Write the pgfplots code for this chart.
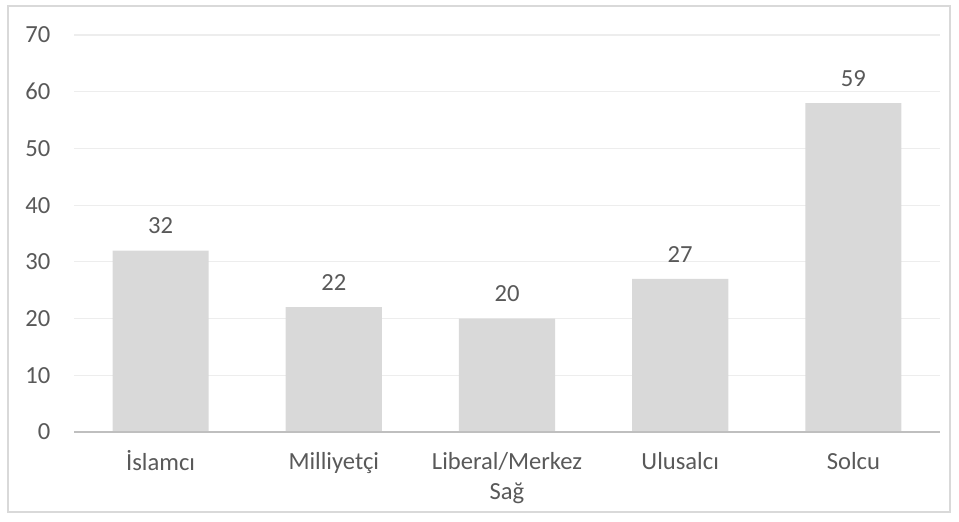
\documentclass[border=0pt]{standalone}
\usepackage{pgfplots}
\pgfplotsset{compat=1.18}
\usepackage{fontspec}
\setmainfont{Carlito}
\definecolor{txt}{HTML}{595959}
\definecolor{barc}{HTML}{D9D9D9}
\definecolor{gridc}{HTML}{EDEDED}
\definecolor{axc}{HTML}{BFBFBF}
\definecolor{framec}{HTML}{D9D9D9}
\newcommand{\lf}{\fontsize{12.3}{15.2}\selectfont}
\newcommand{\st}{\rule{0pt}{9.5pt}}
\begin{document}
\lf
\begin{tikzpicture}
\begin{axis}[
  scale only axis,
  width=433pt, height=198.5pt,
  xmin=-0.5, xmax=4.5,
  ymin=0, ymax=70,
  ytick={0,10,...,70},
  xtick=data,
  xticklabels={\st İslamcı,\st Milliyetçi,{\st Liberal/Merkez\\Sağ},\st Ulusalcı,\st Solcu},
  xticklabel style={align=center, text=txt, font=\lf, anchor=north},
  yticklabel style={text=txt, font=\lf},
  /pgf/number format/assume math mode=true,
  axis line style={draw=none},
  axis x line*=bottom,
  axis y line*=left,
  major tick length=0pt,
  ymajorgrids,
  grid style={gridc, line width=0.6pt},
  xticklabel shift=5pt,
  yticklabel shift=7.5pt,
  clip=false,
  ybar,
  bar width=0.555,
  /pgf/bar shift=0pt,
  nodes near coords,
  point meta=explicit,
  every node near coord/.append style={text=txt, font=\lf, yshift=4pt},
]
\addplot[fill=barc, draw=none] table[meta=label] {
x y label
0 32 32
1 22 22
2 20 20
3 27 27
4 58 59
};
\draw[axc, line width=1.1pt] (rel axis cs:0,0) -- (rel axis cs:1,0);
\draw[framec, line width=0.6pt] ([xshift=-33pt,yshift=-40pt]rel axis cs:0,0) rectangle ([xshift=5pt,yshift=14.5pt]rel axis cs:1,1);
\path ([xshift=-37pt,yshift=-45pt]rel axis cs:0,0) rectangle ([xshift=9.5pt,yshift=17.5pt]rel axis cs:1,1);
\end{axis}
\end{tikzpicture}
\end{document}
